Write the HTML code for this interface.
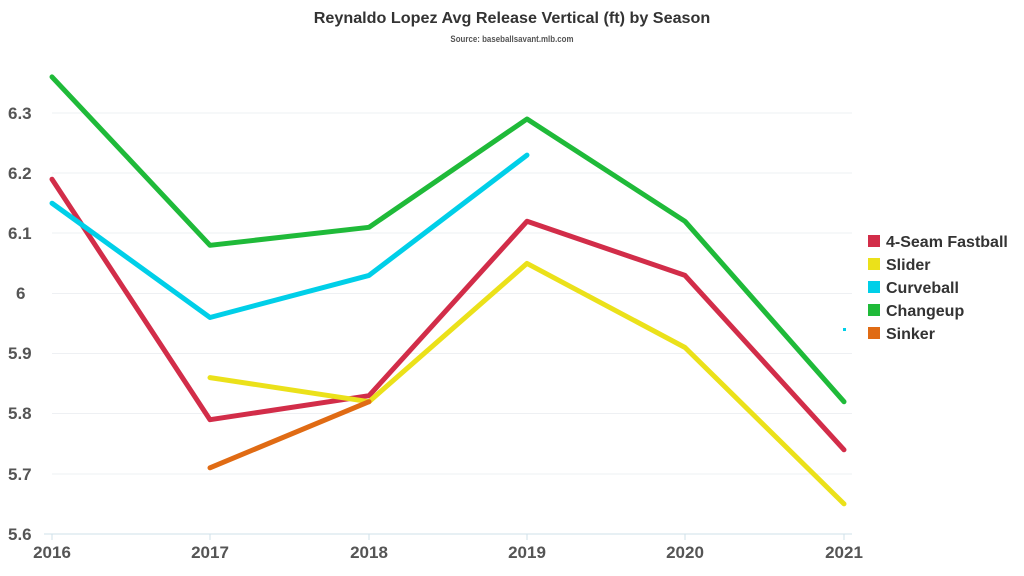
<!DOCTYPE html>
<html><head><meta charset="utf-8"><style>
html,body{margin:0;padding:0;background:#fff;}
svg{display:block;font-family:"Liberation Sans",sans-serif;}
</style></head><body>
<svg width="1024" height="576" viewBox="0 0 1024 576">
<text x="512" y="23" text-anchor="middle" font-size="16" font-weight="bold" fill="#333" transform="translate(512 0) scale(1.01 1) translate(-512 0)">Reynaldo Lopez Avg Release Vertical (ft) by Season</text>
<text x="512" y="42" text-anchor="middle" font-size="9" font-weight="bold" fill="#555" transform="translate(512 0) scale(0.88 1) translate(-512 0)">Source: baseballsavant.mlb.com</text>
<g stroke="#eef0f3" stroke-width="1">
<line x1="52" x2="852" y1="113" y2="113"/><line x1="52" x2="852" y1="173" y2="173"/>
<line x1="52" x2="852" y1="233" y2="233"/><line x1="52" x2="852" y1="293.5" y2="293.5"/>
<line x1="52" x2="852" y1="353.5" y2="353.5"/><line x1="52" x2="852" y1="413.5" y2="413.5"/>
<line x1="52" x2="852" y1="474" y2="474"/>
</g>
<line x1="44" x2="852" y1="534" y2="534" stroke="#cfe0ea" stroke-width="1"/>
<g stroke="#cfe0ea"><line x1="52" x2="52" y1="534" y2="540"/><line x1="210" x2="210" y1="534" y2="540"/><line x1="369" x2="369" y1="534" y2="540"/><line x1="527" x2="527" y1="534" y2="540"/><line x1="685" x2="685" y1="534" y2="540"/><line x1="844" x2="844" y1="534" y2="540"/></g>
<g font-size="17" font-weight="bold" fill="#555">
<text x="8" y="119">6.3</text><text x="8" y="179">6.2</text><text x="8" y="239">6.1</text>
<text x="16" y="299">6</text><text x="8" y="359">5.9</text><text x="8" y="419">5.8</text>
<text x="8" y="480">5.7</text><text x="8" y="540">5.6</text>
</g>
<g font-size="17" font-weight="bold" fill="#555" text-anchor="middle">
<text x="52" y="558">2016</text><text x="210" y="558">2017</text><text x="369" y="558">2018</text>
<text x="527" y="558">2019</text><text x="685" y="558">2020</text><text x="844" y="558">2021</text>
</g>
<g fill="none" stroke-width="5" stroke-linejoin="round" stroke-linecap="round">
<polyline stroke="#d22d49" points="52,179.2 210,419.7 369,395.7 527,221.3 685,275.4 844,449.8"/>
<polyline stroke="#ebe11a" points="210,377.6 369,401.7 527,263.4 685,347.5 844,503.9"/>
<polyline stroke="#00cfe8" points="52,203.2 210,317.5 369,275.4 527,155.1"/>
<polyline stroke="#1fba39" points="52,76.9 210,245.3 369,227.3 527,119 685,221.3 844,401.7"/>
<polyline stroke="#e06b14" points="210,467.8 369,401.7"/>
</g>
<rect x="843" y="328" width="3" height="3" fill="#00cfe8"/>
<g font-size="16" font-weight="bold" fill="#333">
<rect x="868" y="235" width="12" height="12" fill="#d22d49"/><text x="886" y="247">4-Seam Fastball</text>
<rect x="868" y="258" width="12" height="12" fill="#ebe11a"/><text x="886" y="270">Slider</text>
<rect x="868" y="281" width="12" height="12" fill="#00cfe8"/><text x="886" y="293">Curveball</text>
<rect x="868" y="304" width="12" height="12" fill="#1fba39"/><text x="886" y="316">Changeup</text>
<rect x="868" y="327" width="12" height="12" fill="#e06b14"/><text x="886" y="339">Sinker</text>
</g>
</svg>
</body></html>
